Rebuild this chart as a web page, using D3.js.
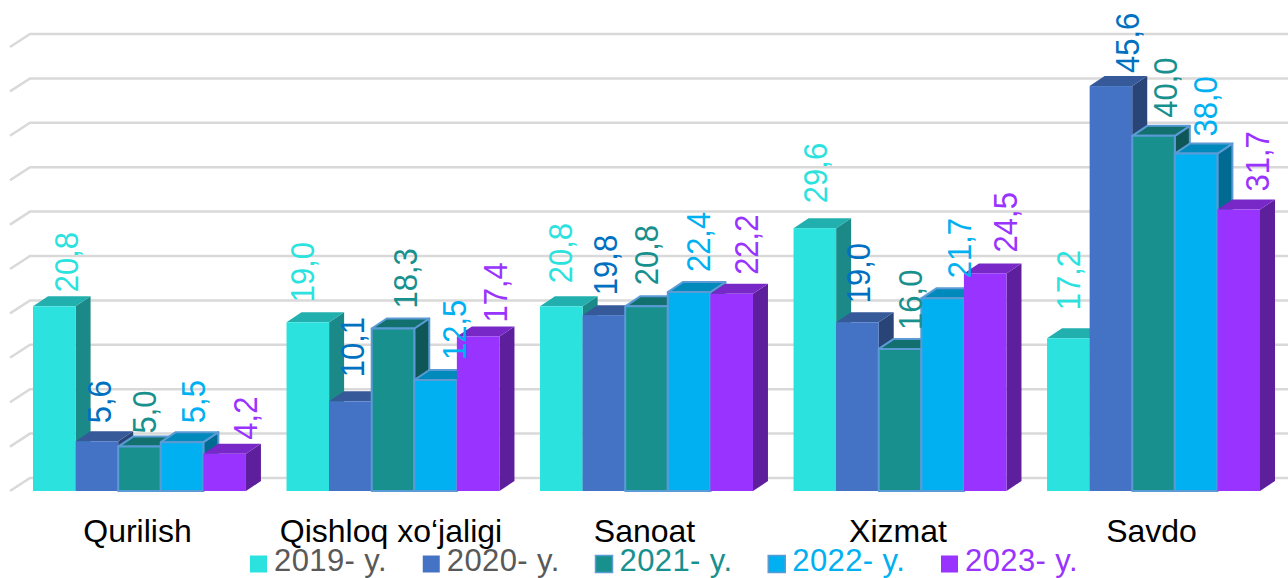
<!DOCTYPE html>
<html>
<head>
<meta charset="utf-8">
<script src="https://cdn.jsdelivr.net/npm/d3@7"></script>
<style>
  html, body { margin: 0; padding: 0; background: #fff; overflow: hidden; }
  svg { display: block; font-family: "Liberation Sans", Arial, sans-serif; }
</style>
</head>
<body>
<div id="chart"></div>
<script>
// Data
var categories = ["Qurilish", "Qishloq xo‘jaligi", "Sanoat", "Xizmat", "Savdo"];
var years = ["2019- y.", "2020- y.", "2021- y.", "2022- y.", "2023- y."];
var values2019 = [20.8, 19.0, 20.8, 29.6, 17.2];
var values2020 = [5.6, 10.1, 19.8, 19.0, 45.6];
var values2021 = [5.0, 18.3, 20.8, 16.0, 40.0];
var values2022 = [5.5, 12.5, 22.4, 21.7, 38.0];
var values2023 = [4.2, 17.4, 22.2, 24.5, 31.7];
var allValues = [values2019, values2020, values2021, values2022, values2023];
var gridTicks = [0, 5, 10, 15, 20, 25, 30, 35, 40, 45, 50];

// Colours per series
var barColors = ["#2CE2DF", "#4472C4", "#17908E", "#00B0F0", "#9933FF"];
var labelColors = ["#2CE2DF", "#0070C0", "#17908E", "#00B0F0", "#9933FF"];
var legendTextColors = ["#595959", "#595959", "#17908E", "#00B0F0", "#9933FF"];
var barStrokes = [null, null, "#5B9BD5", "#5B9BD5", null];

// The labels were moved by hand in the original, one [dx, dy] per series, per category
var labelNudge = [
  [[12, -14], [-6, -20], [-1, -23], [0, -25], [0, -28]],
  [[2, -18], [2, -24], [1, -20], [1, -19], [16, -13]],
  [[5, -13], [12, -20], [0, -21], [10, -19], [12, -18]],
  [[11, -19], [19, -20], [9, -20], [17, -20], [9, -17]],
  [[21, -14], [17, -14], [15, -19], [20, -21], [19, -18]]
];

var width = 1288;
var height = 578;

// 3D look of the bars and the back wall
var depthX = 15;
var depthY = 10;
var wallX = 20;
var wallY = 13;

var svg = d3.select("#chart").append("svg")
  .attr("width", width)
  .attr("height", height);

var xGroup = d3.scaleBand()
  .domain(categories)
  .range([33, 1260])
  .paddingInner(0.16);

var xBar = d3.scaleBand()
  .domain(d3.range(years.length))
  .range([0, xGroup.bandwidth()]);

var y = d3.scaleLinear()
  .domain([0, 50])
  .range([491, 47]);

// Gridlines on the back wall, with the little stub on the left side
var grid = svg.append("g").attr("class", "grid");
grid.selectAll("path")
  .data(gridTicks)
  .enter()
  .append("path")
  .attr("d", function(d) {
    return "M10," + y(d) + "L" + (10 + wallX) + "," + (y(d) - wallY) + "L" + width + "," + (y(d) - wallY);
  })
  .attr("fill", "none")
  .attr("stroke", "#D9D9D9")
  .attr("stroke-width", 2.5);

// Bars, painted from left to right so each one covers the side of the last
var bars = svg.append("g").attr("class", "bars");
categories.forEach(function(cat, c) {
  years.forEach(function(yr, s) {
    var v = allValues[s][c];
    var x0 = xGroup(cat) + xBar(s);
    var x1 = x0 + xBar.bandwidth();
    var top = y(v);
    var base = y(0);
    var color = d3.color(barColors[s]);
    var g = bars.append("g");

    // side
    g.append("path")
      .attr("d", "M" + x1 + "," + top + "L" + (x1 + depthX) + "," + (top - depthY) +
        "L" + (x1 + depthX) + "," + (base - depthY) + "L" + x1 + "," + base + "Z")
      .attr("fill", color.darker(1.4));
    // top
    g.append("path")
      .attr("d", "M" + x0 + "," + top + "L" + (x0 + depthX) + "," + (top - depthY) +
        "L" + (x1 + depthX) + "," + (top - depthY) + "L" + x1 + "," + top + "Z")
      .attr("fill", color.darker(0.7));
    // front
    g.append("rect")
      .attr("x", x0)
      .attr("y", top)
      .attr("width", x1 - x0)
      .attr("height", base - top)
      .attr("fill", color.formatHex());

    if (barStrokes[s]) {
      g.selectAll("path,rect")
        .attr("stroke", barStrokes[s])
        .attr("stroke-width", 2)
        .attr("stroke-linejoin", "round");
    }
  });
});

// Value labels, rotated, on top of every bar
var labels = svg.append("g").attr("class", "labels");
categories.forEach(function(cat, c) {
  years.forEach(function(yr, s) {
    var v = allValues[s][c];
    var lx = xGroup(cat) + xBar(s) + xBar.bandwidth() / 2 + labelNudge[s][c][0];
    var ly = y(v) + labelNudge[s][c][1];
    labels.append("text")
      .attr("transform", "translate(" + lx + "," + ly + ")rotate(-90)scale(1,1.05)")
      .attr("dy", "0.36em")
      .attr("font-size", 31)
      .attr("fill", labelColors[s])
      .text(v.toFixed(1).replace(".", ","));
  });
});

// Category names
svg.append("g").selectAll("text")
  .data(categories)
  .enter()
  .append("text")
  .attr("x", function(d) { return xGroup(d) + xGroup.bandwidth() / 2 - 2; })
  .attr("y", 542)
  .attr("text-anchor", "middle")
  .attr("font-size", 32)
  .attr("fill", "#000")
  .text(function(d) { return d; });

// Legend
var legendStep = d3.scaleLinear().domain([0, 4]).range([250, 941]);
var legend = svg.append("g").selectAll("g")
  .data(years)
  .enter()
  .append("g")
  .attr("transform", function(d, i) { return "translate(" + legendStep(i) + ",0)"; });

legend.append("rect")
  .attr("y", 555.5)
  .attr("width", 17)
  .attr("height", 17)
  .attr("fill", function(d, i) { return barColors[i]; })
  .attr("stroke", function(d, i) { return barStrokes[i] || "none"; })
  .attr("stroke-width", 1.5);

legend.append("text")
  .attr("x", 24)
  .attr("y", 571)
  .attr("font-size", 31)
  .attr("letter-spacing", 0.4)
  .attr("fill", function(d, i) { return legendTextColors[i]; })
  .text(function(d) { return d; });
</script>
</body>
</html>
